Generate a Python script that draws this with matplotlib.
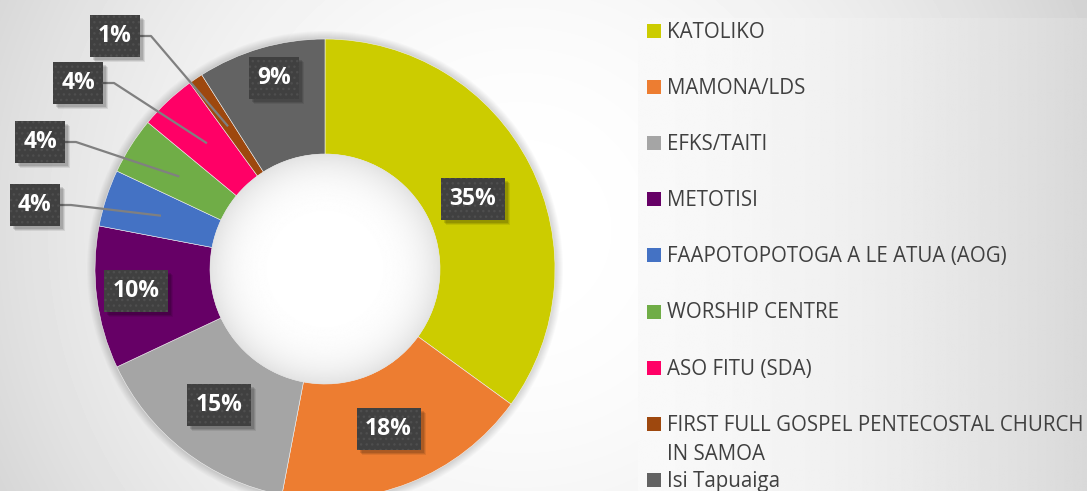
import numpy as np
import matplotlib.pyplot as plt
from matplotlib.patches import Rectangle, Circle

W, H = 1087, 491

religions = ['KATOLIKO', 'MAMONA/LDS', 'EFKS/TAITI', 'METOTISI',
             'FAAPOTOPOTOGA A LE ATUA (AOG)', 'WORSHIP CENTRE', 'ASO FITU (SDA)',
             'FIRST FULL GOSPEL PENTECOSTAL CHURCH\nIN SAMOA', 'Isi Tapuaiga']
shares = [35, 18, 15, 10, 4, 4, 4, 1, 9]
colors = ['#CCCC00', '#ED7D31', '#A5A5A5', '#660066', '#4472C4',
          '#70AD47', '#FF0066', '#9E480E', '#636363']

# label boxes moved off the ring centre (pixel coords from top-left), None = centre of slice
label_pos = [(473, 199), None, None, (136, 291), (35, 205), (40, 142), (78, 83), (115, 36), (274, 78)]
leader = [False, False, False, False, True, True, True, True, False]

cx, cy = 325, 269
R, r = 230, 115


def fy(y):
    return H - y


fig = plt.figure(figsize=(W / 100, H / 100), dpi=100)
ax = fig.add_axes([0, 0, 1, 1])

# background: soft radial gradient
xx, yy = np.meshgrid(np.arange(W), np.arange(H))
d = np.hypot(xx - 520, yy - 230) / 600
bg = 1 - 0.17 * d ** 2.0
ax.imshow(bg, cmap='gray', vmin=0, vmax=1, extent=(0, W, 0, H), origin='upper', zorder=0)

# legend panel, lighter horizontal gradient
gx = np.linspace(0, 1, 300)
panel = np.tile(0.975 - 0.125 * gx ** 1.6, (10, 1))
ax.imshow(panel, cmap='gray', vmin=0, vmax=1, extent=(638, W, 0, fy(18)), zorder=0.5, aspect='auto')

# soft shadow round the ring
for k in range(1, 9):
    ax.add_patch(Circle((cx, fy(cy)), R + k, facecolor='black', alpha=0.018, lw=0, zorder=1))

wedges, _ = ax.pie(shares, colors=colors, startangle=90, counterclock=False, radius=R,
                   center=(cx, fy(cy)),
                   wedgeprops=dict(width=R - r, edgecolor='#f0f0f0', linewidth=0.4, zorder=2))

# hole with inner shadow
hx, hy = np.meshgrid(np.linspace(-1, 1, 300), np.linspace(-1, 1, 300))
hd = np.hypot(hx, hy)
hole = 1 - 0.11 * np.clip(hd, 0, 1) ** 5
im = ax.imshow(hole, cmap='gray', vmin=0, vmax=1,
               extent=(cx - r, cx + r, fy(cy) - r, fy(cy) + r), zorder=3)
im.set_clip_path(Circle((cx, fy(cy)), r, transform=ax.transData))

mid_r = (R + r) / 2
for i, w in enumerate(wedges):
    ang = np.deg2rad((w.theta1 + w.theta2) / 2)
    px = cx + mid_r * np.cos(ang)
    py = fy(cy) + mid_r * np.sin(ang)
    if label_pos[i] is None:
        bx, by = px, py
    else:
        bx, by = label_pos[i][0], fy(label_pos[i][1])
    txt = f'{shares[i]}%'
    bw = 64 if len(txt) == 3 else 50
    bh = 42
    if leader[i]:
        x0 = bx + bw / 2
        ax.plot([x0, x0 + 11, px], [by, by, py], color='#808080', lw=1.6, zorder=4,
                solid_capstyle='butt')
    # shadow
    for s, a in [(5, 0.08), (4, 0.1), (3, 0.12)]:
        ax.add_patch(Rectangle((bx - bw / 2 + s, by - bh / 2 - s), bw, bh,
                               facecolor='black', alpha=a, lw=0, zorder=4.5))
    ax.add_patch(Rectangle((bx - bw / 2, by - bh / 2), bw, bh, facecolor='#404040',
                           edgecolor='#4e4e4e', hatch='...', lw=0, zorder=5))
    ax.text(bx, by, txt, color='white', fontsize=16.5, fontweight='bold',
            family='Open Sans', ha='center', va='center', zorder=6)

# legend
fig.canvas.draw()
ren = fig.canvas.get_renderer()
probe = ax.text(0, 0, religions[7].split('\n')[0], fontsize=14, family='Open Sans')
wpx = probe.get_window_extent(ren).width
probe.remove()
lfs = 14 * 418 / wpx

for i, name in enumerate(religions):
    base = 38 + 56.1 * i
    ax.add_patch(Rectangle((647, fy(base)), 14, 14, facecolor=colors[i], lw=0, zorder=5))
    for j, line in enumerate(name.split('\n')):
        ax.text(667, fy(base + 29 * j), line, fontsize=lfs, family='Open Sans',
                color='#404040', ha='left', va='baseline', zorder=6)

ax.set_xlim(0, W)
ax.set_ylim(0, H)
ax.set_aspect('auto')
ax.axis('off')

fig.savefig('out.png', dpi=100)
